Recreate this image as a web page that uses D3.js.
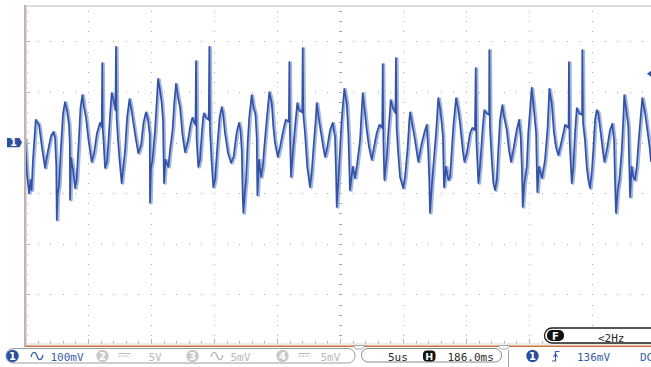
<!DOCTYPE html>
<html>
<head>
<meta charset="utf-8">
<script src="https://cdn.jsdelivr.net/npm/d3@7/dist/d3.min.js"></script>
<style>
  html, body { margin: 0; padding: 0; background: #fff; }
  svg { display: block; }
  text { font-family: "DejaVu Sans Mono", "Liberation Mono", monospace; }
</style>
</head>
<body>
<svg id="scope" width="651" height="367"></svg>
<script>
// Channel 1 capture: time in microseconds from the left edge of the screen, voltage in mV
const timeUs = [
  0, 0.16, 0.32, 0.44, 0.52, 0.63, 0.85, 0.99, 1.11, 1.35, 1.59, 1.83, 2.06, 2.25, 2.38, 2.48, 2.52, 2.58, 2.70, 2.86,
  3.02, 3.17, 3.33, 3.49, 3.56, 3.57, 3.65, 3.81, 3.97, 4.09, 4.25, 4.40, 4.55, 4.68, 4.84, 5.04, 5.29, 5.48, 5.71, 5.95,
  6.09, 6.13, 6.17, 6.23, 6.35, 6.51, 6.63, 6.75, 6.88, 7.02, 7.18, 7.22, 7.27, 7.38, 7.50, 7.67, 7.82, 7.94, 8.10, 8.29,
  8.45, 8.61, 8.81, 8.99, 9.21, 9.40, 9.60, 9.76, 9.90, 9.92, 10.00, 10.12, 10.32, 10.56, 10.71, 10.85, 10.95, 11.03, 11.15, 11.37,
  11.51, 11.71, 11.83, 11.98, 12.14, 12.30, 12.50, 12.70, 12.94, 13.13, 13.28, 13.53, 13.57, 13.62, 13.75, 13.89, 14.02, 14.13, 14.21, 14.37,
  14.58, 14.63, 14.68, 14.80, 14.94, 15.08, 15.24, 15.44, 15.61, 15.71, 15.87, 16.11, 16.35, 16.55, 16.79, 16.98, 17.10, 17.20, 17.28, 17.33,
  17.46, 17.54, 17.67, 17.80, 17.99, 18.13, 18.29, 18.39, 18.44, 18.57, 18.73, 18.87, 18.99, 19.18, 19.39, 19.58, 19.71, 19.84, 20.06, 20.24,
  20.50, 20.69, 20.94, 20.98, 21.02, 21.11, 21.27, 21.43, 21.61, 21.75, 22.00, 22.04, 22.09, 22.22, 22.40, 22.62, 22.75, 22.88, 23.07, 23.15,
  23.33, 23.49, 23.67, 23.81, 23.95, 24.21, 24.42, 24.60, 24.68, 24.74, 24.87, 25.00, 25.13, 25.34, 25.53, 25.66, 25.79, 26.01, 26.19, 26.33,
  26.59, 26.80, 26.98, 27.12, 27.30, 27.52, 27.70, 27.91, 28.12, 28.35, 28.39, 28.44, 28.52, 28.71, 28.83, 28.97, 29.02, 29.21, 29.40, 29.44,
  29.49, 29.60, 29.76, 30.02, 30.16, 30.37, 30.50, 30.56, 30.77, 30.95, 31.21, 31.48, 31.75, 31.88, 32.00, 32.09, 32.14, 32.28, 32.40, 32.62,
  32.80, 32.94, 33.07, 33.17, 33.25, 33.41, 33.60, 33.73, 33.87, 33.99, 34.21, 34.39, 34.52, 34.74, 34.87, 35.06, 35.32, 35.50, 35.71, 35.77,
  35.82, 35.98, 36.11, 36.33, 36.45, 36.63, 36.83, 36.85, 36.90, 37.04, 37.17, 37.30, 37.44, 37.56, 37.70, 37.88, 38.02, 38.23, 38.41, 38.57,
  38.75, 39.02, 39.21, 39.34, 39.44, 39.50, 39.63, 39.82, 39.94, 40.08, 40.21, 40.34, 40.56, 40.66, 40.79, 41.03, 41.27, 41.48, 41.61, 41.80,
  41.98, 42.14, 42.33, 42.60, 42.86, 43.14, 43.17, 43.22, 43.39, 43.52, 43.65, 43.79, 43.97, 44.21, 44.23, 44.29, 44.44, 44.58, 44.71, 44.84,
  44.98, 45.10, 45.24, 45.37, 45.50, 45.69, 45.85, 45.98, 46.17, 46.43, 46.61, 46.75, 46.83, 46.90, 47.04, 47.17, 47.36, 47.48, 47.56, 47.75,
  47.88, 48.02, 48.15, 48.28, 48.41, 48.55, 48.75, 48.99, 49.21, 49.39, 49.60, 49.68
];
const voltMv = [
  9, -64, -100, -74, -94, -34, 45, 39, 35, -11, -50, -15, 13, 21, 11, -44, -153, -104, -84, -5,
  58, 80, 64, 35, -5, -113, -30, -54, -90, -74, -5, 68, 94, 70, 49, 5, -38, -21, 19, 39,
  31, 157, 25, 5, -50, -38, 5, 55, 98, 84, 64, 189, 49, 5, -34, -80, -44, -15, 49, 86,
  64, 37, 5, -21, -5, 39, 60, 45, 15, -119, -50, -34, 25, 126, 104, 78, 45, -80, -34, -48,
  -15, 25, 74, 116, 90, 70, 15, -19, 5, 35, 49, 35, 161, 5, -48, -34, 15, 49, 58, 49,
  45, 189, 25, -34, -88, -74, -15, 49, 70, 58, 19, -21, -40, -28, 19, 39, 25, -15, -108, -139,
  -94, -74, -1, 51, 94, 70, 55, 11, -104, -34, -68, -48, -9, 45, 100, 78, 31, -1, -28, -9,
  25, 45, 41, 159, 25, -68, -15, 31, 78, 64, 60, 187, 55, 19, -48, -88, -60, -15, 45, 78,
  45, 19, -9, -28, -15, 25, 39, 11, -54, -127, -74, -15, 45, 106, 78, 19, -94, -48, -70, -48,
  5, 98, 58, 25, -9, -34, -9, 19, 35, 29, 155, 5, -74, -28, 19, 64, 84, 68, 58, 167,
  31, -15, -68, -90, -68, -9, 45, 60, 31, 5, -38, -1, 25, 35, -15, -80, -139, -88, -48, 19,
  88, 68, 39, 11, -88, -48, -74, -68, -15, 31, 88, 64, 39, -15, -38, -21, 19, 29, 25, 147,
  5, -80, -48, 31, 64, 58, 55, 183, 31, -34, -80, -94, -74, -15, 45, 74, 51, 25, -15, -38,
  -15, 25, 45, 11, -54, -127, -80, -48, 19, 64, 108, 78, 19, -98, -48, -70, -34, 31, 106, 78,
  19, -9, -25, 5, 35, 29, 159, 5, -80, -48, 19, 68, 58, 55, 183, 39, 5, -48, -74, -90,
  -60, -15, 45, 64, 58, 19, -15, -38, -15, 25, 37, 5, -80, -139, -94, -74, -15, 45, 94, 58,
  31, -108, -48, -68, -74, -48, 19, 88, 58, 25, -15, -38
];

// Settings shown in the status bar
const timePerDivUs = 5;
const voltPerDivMv = 100;
const triggerLevelMv = 136;
const channelLabels = ["1", "2", "3", "4"];
const channelScales = ["100mV", "5V", "5mV", "5mV"];
const channelCoupling = ["ac", "dc", "ac", "dc"];
const timebaseText = "5us";
const delayText = "186.0ms";
const triggerText = "136mV";
const triggerCoupling = "DC";
const counterText = "<2Hz";

const trace = timeUs.map((t, i) => ({ t, v: voltMv[i] }));

const svg = d3.select("#scope");
const W = 651, H = 367;

// 10 horizontal divisions of 63 px; ground of channel 1 at 142.6 px, 50.6 px per division
const x = d3.scaleLinear().domain([0, 10 * timePerDivUs]).range([25, 655]);
const y = d3.scaleLinear().domain([-4 * voltPerDivMv, 3 * voltPerDivMv]).range([345, -9.2]);

const plotTop = 6, plotBottom = 345, plotLeft = 25;

svg.append("rect").attr("width", W).attr("height", H).attr("fill", "#fff");

// ---- graticule ----
const grid = svg.append("g");
const majorT = d3.range(timePerDivUs, 10 * timePerDivUs, timePerDivUs);
const minorT = d3.range(1, 50, 1);
const majorV = d3.range(-3 * voltPerDivMv, 3 * voltPerDivMv, voltPerDivMv);
const minorV = d3.range(-380, 280, 20);

majorT.forEach(t => {
  const centre = t === 5 * timePerDivUs;
  minorV.forEach(v => {
    const yy = y(v);
    if (yy < plotTop + 2 || yy > plotBottom - 2) return;
    grid.append("rect")
      .attr("x", Math.round(x(t)) - (centre ? 1 : 0))
      .attr("y", Math.round(yy))
      .attr("width", centre ? 3 : 1)
      .attr("height", 1)
      .attr("fill", centre ? "#a6a6a6" : "#a9a9a9");
  });
});
majorV.forEach(v => {
  minorT.forEach(t => {
    const xx = x(t);
    if (xx > W) return;
    grid.append("rect")
      .attr("x", Math.round(xx))
      .attr("y", Math.round(y(v)))
      .attr("width", 1)
      .attr("height", 1)
      .attr("fill", "#a9a9a9");
  });
});

// left border ticks
minorV.forEach(v => {
  const yy = y(v);
  if (yy < plotTop + 2 || yy > plotBottom - 2) return;
  const major = v % voltPerDivMv === 0;
  grid.append("rect")
    .attr("x", plotLeft + 1).attr("y", Math.round(yy))
    .attr("width", major ? 4 : 2).attr("height", 1)
    .attr("fill", "#b4b4b4");
});
// bottom border ticks
minorT.forEach(t => {
  const xx = x(t);
  if (xx > W) return;
  const major = t % timePerDivUs === 0;
  grid.append("rect")
    .attr("x", Math.round(xx)).attr("y", major ? 339 : 341)
    .attr("width", 1).attr("height", major ? 5 : 3)
    .attr("fill", "#b4b4b4");
});

// frame
svg.append("line").attr("x1", plotLeft).attr("x2", W).attr("y1", plotTop).attr("y2", plotTop)
  .attr("stroke", "#cfcfcf").attr("stroke-width", 1.6);
svg.append("line").attr("x1", plotLeft).attr("x2", W).attr("y1", 344).attr("y2", 344)
  .attr("stroke", "#d9d9d9").attr("stroke-width", 1);
svg.append("line").attr("x1", plotLeft).attr("x2", W).attr("y1", 346.3).attr("y2", 346.3)
  .attr("stroke", "#c9703e").attr("stroke-width", 1.4);
svg.append("line").attr("x1", plotLeft).attr("x2", plotLeft).attr("y1", plotTop - 1).attr("y2", 347)
  .attr("stroke", "#b3a09a").attr("stroke-width", 1.6);
svg.append("line").attr("x1", plotLeft + 1.5).attr("x2", plotLeft + 1.5).attr("y1", plotTop).attr("y2", 345)
  .attr("stroke", "#e6dcd9").attr("stroke-width", 1);

// ---- trace ----
svg.append("clipPath").attr("id", "plotClip")
  .append("rect").attr("x", plotLeft + 1).attr("y", plotTop + 1)
  .attr("width", W - plotLeft).attr("height", plotBottom - plotTop - 2);

const line = d3.line().x(d => x(d.t)).y(d => y(d.v));
const tg = svg.append("g").attr("clip-path", "url(#plotClip)");
tg.append("path").datum(trace).attr("d", line)
  .attr("transform", "translate(1.4,0.5)")
  .attr("fill", "none").attr("stroke", "#a3b6e0").attr("stroke-width", 2.6)
  .attr("stroke-linejoin", "round");
tg.append("path").datum(trace).attr("d", line)
  .attr("fill", "none").attr("stroke", "#3352a5").attr("stroke-width", 1.7)
  .attr("stroke-linejoin", "round");

// channel 1 ground marker
const gy = y(0);
svg.append("path")
  .attr("d", `M7,${gy - 4.6} L19.5,${gy - 4.6} L22,${gy} L19.5,${gy + 4.6} L7,${gy + 4.6} Z`)
  .attr("fill", "#2d4f9e");
svg.append("text").attr("x", 13.5).attr("y", gy + 3.6).attr("text-anchor", "middle")
  .attr("fill", "#fff").attr("font-size", 10).attr("font-weight", "bold")
  .style("font-family", "DejaVu Sans").text("1");

// trigger level marker at right edge
const ty = y(triggerLevelMv);
svg.append("path")
  .attr("d", `M647,${ty} L651,${ty - 3} L651,${ty + 3} Z`)
  .attr("fill", "#3554a6");

// ---- frequency counter box ----
svg.append("rect").attr("x", 544.5).attr("y", 328).attr("width", 130).attr("height", 15)
  .attr("rx", 7.5).attr("fill", "#fff").attr("stroke", "#1e1e1e").attr("stroke-width", 1.3);
svg.append("rect").attr("x", 547).attr("y", 330).attr("width", 17).attr("height", 11)
  .attr("rx", 5).attr("fill", "#111");
svg.append("text").attr("x", 555.5).attr("y", 339.5).attr("text-anchor", "middle")
  .attr("fill", "#fff").attr("font-size", 10).attr("font-weight", "bold")
  .style("font-family", "DejaVu Sans").text("F");
svg.append("text").attr("x", 598).attr("y", 341.5).attr("fill", "#2a2a2a")
  .attr("font-size", 11).text(counterText);

// ---- status bar ----
const bar = svg.append("g");
// channel settings box
bar.append("rect").attr("x", 6).attr("y", 348.5).attr("width", 349).attr("height", 14.5)
  .attr("rx", 7).attr("fill", "#fff").attr("stroke", "#9c9c9c").attr("stroke-width", 1);

const chanX = [12.5, 102.5, 192.5, 282.5];
const chanColor = ["#2a4f9f", "#c9c9c9", "#c9c9c9", "#c9c9c9"];
const chanText = ["#3b5cae", "#b9b9b9", "#b9b9b9", "#b9b9b9"];

function acSymbol(g, cx, cy, color) {
  g.append("path")
    .attr("d", `M${cx - 6},${cy + 1} C${cx - 4.5},${cy - 5} ${cx - 1.5},${cy - 5} ${cx},${cy} S${cx + 4.5},${cy + 5} ${cx + 6},${cy - 1}`)
    .attr("fill", "none").attr("stroke", color).attr("stroke-width", 1.3);
}
function dcSymbol(g, cx, cy, color) {
  g.append("line").attr("x1", cx - 6).attr("x2", cx + 6).attr("y1", cy - 1.5).attr("y2", cy - 1.5)
    .attr("stroke", color).attr("stroke-width", 1);
  g.append("line").attr("x1", cx - 6).attr("x2", cx + 6).attr("y1", cy + 1).attr("y2", cy + 1)
    .attr("stroke", color).attr("stroke-width", 1).attr("stroke-dasharray", "2.4,1.2");
}

channelLabels.forEach((lab, i) => {
  const cx = chanX[i];
  bar.append("circle").attr("cx", cx).attr("cy", 356).attr("r", 6.2).attr("fill", chanColor[i]);
  bar.append("text").attr("x", cx).attr("y", 359.8).attr("text-anchor", "middle")
    .attr("fill", "#fff").attr("font-size", 10).attr("font-weight", "bold")
    .style("font-family", "DejaVu Sans").text(lab);
  if (channelCoupling[i] === "ac") acSymbol(bar, cx + 24.5, 356, chanText[i]);
  else dcSymbol(bar, cx + 22, 355, chanText[i]);
  bar.append("text").attr("x", i === 1 ? cx + 46 : cx + 38).attr("y", 360.5)
    .attr("fill", chanText[i]).attr("font-size", 11).text(channelScales[i]);
});

// timebase box
bar.append("rect").attr("x", 361.5).attr("y", 348.5).attr("width", 140).attr("height", 13.5)
  .attr("rx", 6.5).attr("fill", "#fff").attr("stroke", "#8a8a8a").attr("stroke-width", 1);
[359, 504].forEach(mx => {
  bar.append("path").attr("d", `M${mx - 6},345.5 L${mx + 6},345.5 L${mx + 3},349 L${mx - 3},349 Z`)
    .attr("fill", "#fff").attr("stroke", "#9a9a9a").attr("stroke-width", 0.8);
});
bar.append("text").attr("x", 388).attr("y", 360.5).attr("fill", "#2a2a2a")
  .attr("font-size", 11).text(timebaseText);
bar.append("rect").attr("x", 423).attr("y", 350.5).attr("width", 12.5).attr("height", 11)
  .attr("rx", 4).attr("fill", "#111");
bar.append("text").attr("x", 429.3).attr("y", 359.8).attr("text-anchor", "middle")
  .attr("fill", "#fff").attr("font-size", 9.5).attr("font-weight", "bold")
  .style("font-family", "DejaVu Sans").text("H");
bar.append("text").attr("x", 447.5).attr("y", 360.5).attr("fill", "#2a2a2a")
  .attr("font-size", 11).text(delayText);

// trigger section
bar.append("line").attr("x1", 508.5).attr("x2", 508.5).attr("y1", 350).attr("y2", 367)
  .attr("stroke", "#a0a0a0").attr("stroke-width", 1);
bar.append("circle").attr("cx", 532.5).attr("cy", 356).attr("r", 6.2).attr("fill", "#2a4f9f");
bar.append("text").attr("x", 532.5).attr("y", 359.8).attr("text-anchor", "middle")
  .attr("fill", "#fff").attr("font-size", 10).attr("font-weight", "bold")
  .style("font-family", "DejaVu Sans").text("1");
bar.append("path").attr("d", "M552,361 L555.5,361 L555.5,351.5 L559.5,351.5")
  .attr("fill", "none").attr("stroke", "#3b5cae").attr("stroke-width", 1.2);
bar.append("path").attr("d", "M553.3,357 L555.5,354 L557.7,357")
  .attr("fill", "none").attr("stroke", "#3b5cae").attr("stroke-width", 1.1);
bar.append("text").attr("x", 577).attr("y", 360.5).attr("fill", "#3b5cae")
  .attr("font-size", 11).text(triggerText);
bar.append("text").attr("x", 640).attr("y", 360.5).attr("fill", "#3b5cae")
  .attr("font-size", 11).text(triggerCoupling);
</script>
</body>
</html>
